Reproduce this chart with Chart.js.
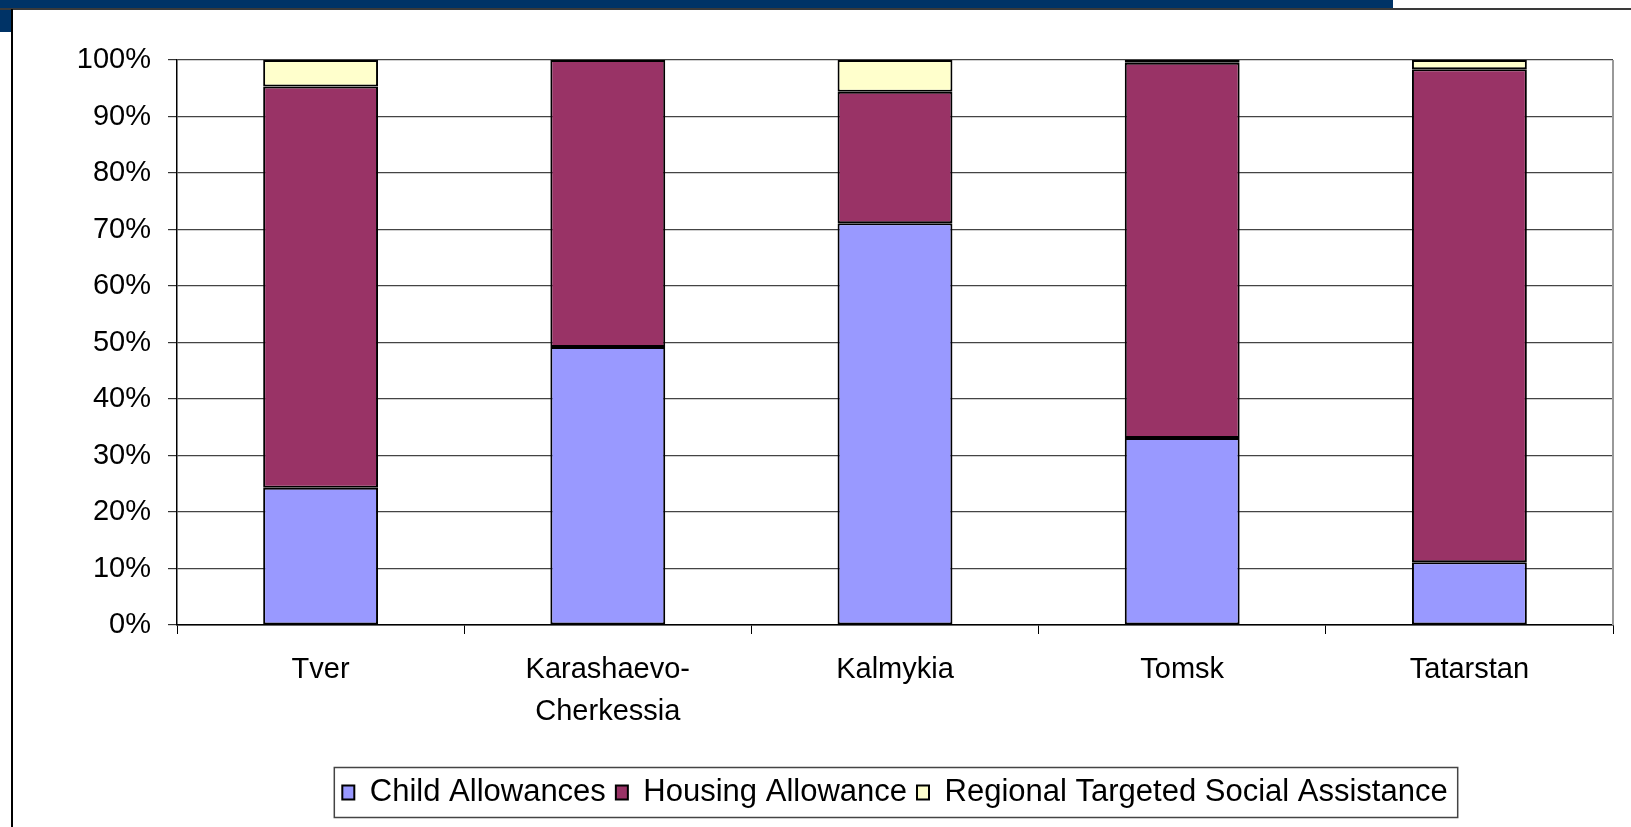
<!DOCTYPE html>
<html>
<head>
<meta charset="utf-8">
<title>Benefit structure by region</title>
<script src="https://cdn.jsdelivr.net/npm/chart.js@4/dist/chart.umd.min.js"></script>
<style>
   body { margin: 0; background: #fff; overflow: hidden; }
   #wrap { position: absolute; left: 0; top: 0; width: 1631px; height: 827px; }
   .deco { position: absolute; }
</style>
</head>
<body>
<div id="wrap">
   <div class="deco" style="left:0;top:0;width:1393px;height:8px;background:#003366"></div>
   <div class="deco" style="left:0;top:0;width:12px;height:32px;background:#003366"></div>
   <div class="deco" style="left:0;top:8px;width:1631px;height:2px;background:#3a3a3a"></div>
   <div class="deco" style="left:11px;top:9px;width:2px;height:818px;background:#000"></div>
   <canvas id="chart" width="1631" height="827"></canvas>
</div>
<script>
'use strict';

var regions = ['Tver', ['Karashaevo-', 'Cherkessia'], 'Kalmykia', 'Tomsk', 'Tatarstan'];
var seriesNames = ['Child Allowances', 'Housing Allowance', 'Regional Targeted Social Assistance'];
var childAllowances = [24.3, 49.2, 71.1, 33.1, 11.1];
var housingAllowance = [71.0, 50.8, 23.3, 66.4, 87.25];
var regionalAssistance = [4.7, 0, 5.6, 0.5, 1.65];
var yTicks = [0, 10, 20, 30, 40, 50, 60, 70, 80, 90, 100];

var fontFamily = "'Liberation Sans', Arial, sans-serif";

// move the legend so it sits centred under the plot area, not the whole canvas
var legendShift = {
   id: 'legendShift',
   afterLayout: function (chart) {
      var lg = chart.legend;
      var area = chart.chartArea;
      if (!lg) return;
      var dx = (area.left + area.right) / 2 - (lg.left + lg.right) / 2;
      lg.left += dx;
      lg.right += dx;
   }
};

// grey frame on the right of the plot + border round the legend
var framePlugin = {
   id: 'frame',
   afterDraw: function (chart) {
      var ctx = chart.ctx;
      var area = chart.chartArea;
      var lg = chart.legend;
      ctx.save();
      ctx.strokeStyle = '#999';
      ctx.lineWidth = 2;
      ctx.beginPath();
      ctx.moveTo(area.right, area.top);
      ctx.lineTo(area.right, area.bottom);
      ctx.stroke();

      if (lg && lg.lineWidths) {
         var pad = lg.options.labels.padding;
         var rowW = lg.lineWidths[0];
         var startX = (lg.left + pad + lg.right - rowW) / 2;
         var endX = startX + rowW - pad;
         var cy = lg.top + lg.height / 2;
         ctx.strokeStyle = '#444';
         ctx.lineWidth = 1.5;
         ctx.strokeRect(startX - 8, cy - 25, endX - startX + 18, 50);
      }
      ctx.restore();
   }
};

function makeSet(label, values, color) {
   return {
      label: label,
      data: values,
      backgroundColor: color,
      borderColor: '#000',
      borderWidth: 2,
      borderSkipped: false,
      barPercentage: 0.4,
      categoryPercentage: 1.0
   };
}

var ctx = document.getElementById('chart').getContext('2d');
var chart = new Chart(ctx, {
   type: 'bar',
   data: {
      labels: regions,
      datasets: [
         makeSet(seriesNames[0], childAllowances, '#9999ff'),
         makeSet(seriesNames[1], housingAllowance, '#993366'),
         makeSet(seriesNames[2], regionalAssistance, '#ffffcc')
      ]
   },
   options: {
      responsive: false,
      animation: false,
      layout: {
         padding: { left: 20, right: 18, top: 60, bottom: 9 }
      },
      plugins: {
         tooltip: { enabled: false },
         legend: {
            position: 'bottom',
            labels: {
               color: '#000',
               font: { family: fontFamily, size: 31 },
               boxWidth: 12,
               boxHeight: 14,
               padding: 10
            }
         }
      },
      scales: {
         x: {
            stacked: true,
            grid: {
               offset: true,
               drawOnChartArea: false,
               drawTicks: true,
               tickLength: 9,
               color: '#000',
               lineWidth: 1
            },
            border: { color: '#000', width: 1.5 },
            ticks: {
               color: '#000',
               padding: 15,
               maxRotation: 0,
               autoSkip: false,
               font: { family: fontFamily, size: 29, lineHeight: 1.45 }
            },
            afterFit: function (scale) { scale.height = 142; }
         },
         y: {
            stacked: true,
            min: 0,
            max: 100,
            afterBuildTicks: function (scale) {
               scale.ticks = yTicks.map(function (v) { return { value: v }; });
            },
            grid: {
               color: '#444',
               lineWidth: 1.2,
               tickLength: 9,
               tickColor: '#333'
            },
            border: { color: '#000', width: 1.5 },
            ticks: {
               color: '#000',
               padding: 17,
               font: { family: fontFamily, size: 29 },
               callback: function (v) { return v + '%'; }
            },
            afterFit: function (scale) { scale.width = 157; }
         }
      }
   },
   plugins: [legendShift, framePlugin]
});
</script>
</body>
</html>
